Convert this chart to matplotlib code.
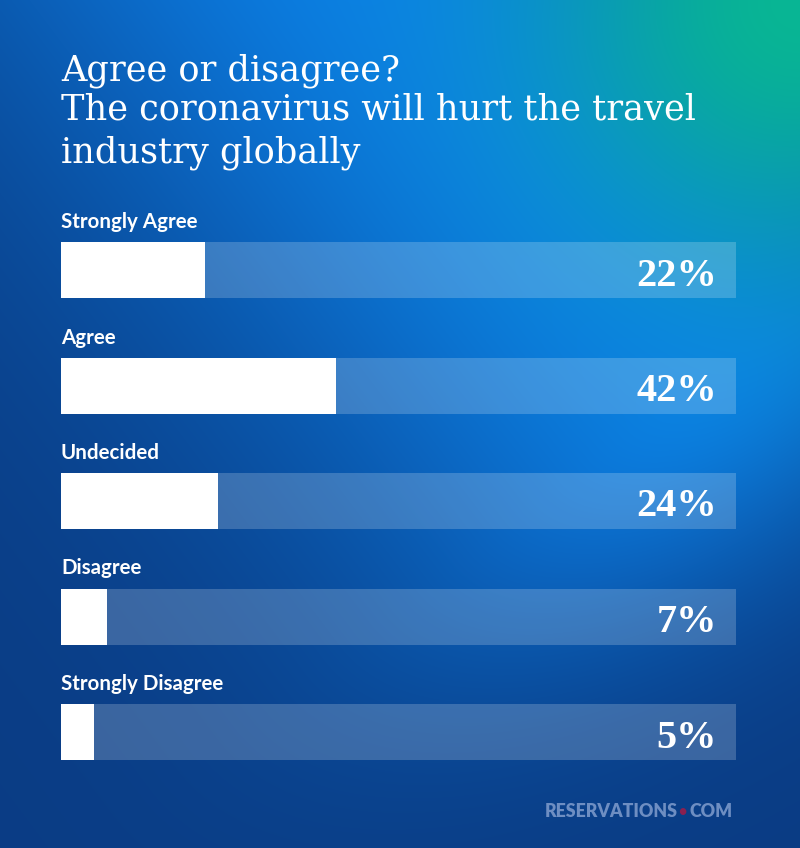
import matplotlib
matplotlib.use('Agg')
import matplotlib.pyplot as plt
import numpy as np

# 数据
categories = ['Strongly Agree', 'Agree', 'Undecided', 'Disagree', 'Strongly Disagree']
values = [22, 42, 24, 7, 5]
title_lines = ['Agree or disagree?',
               'The coronavirus will hurt the travel',
               'industry globally']

W, H = 800, 848
X_MAX = 103


def background():
    """蓝色渐变背景"""
    yy, xx = np.mgrid[0:H, 0:W].astype(float)
    navy = np.array([10, 60, 132]) / 255
    bright = np.array([12, 128, 232]) / 255
    teal = np.array([8, 182, 148]) / 255
    # 斜向亮带
    dx, dy = xx - 450, yy
    along = 0.6 * dx + 0.8 * dy
    perp = np.abs(-0.8 * dx + 0.6 * dy)
    w = np.exp(-(perp / 404) ** 2) * np.exp(-(np.clip(along - 450, 0, None) / 200) ** 2)
    # 右上角青绿
    dist = np.hypot(xx - W, yy)
    t = np.exp(-(dist / 260) ** 2)
    img = navy * (1 - w[..., None]) + bright * w[..., None]
    img = img * (1 - t[..., None]) + teal * t[..., None]
    return img


def px(x, y):
    """像素坐标 -> figure 坐标"""
    return x / W, 1 - y / H


def main():
    fig = plt.figure(figsize=(W / 100, H / 100), dpi=100)
    bg = fig.add_axes([0, 0, 1, 1])
    bg.imshow(background(), aspect='auto', extent=(0, W, H, 0))
    bg.axis('off')

    # 标题
    for line, base in zip(title_lines, [80, 120, 162]):
        fig.text(*px(61, base), line, color='white', fontsize=25.3,
                 family='DejaVu Serif', va='baseline', ha='left')

    # 条形图区域
    row = 115.5
    top, bottom = 242 - (row - 56) / 2, 760 + (row - 56) / 2
    ax = fig.add_axes([61 / W, 1 - bottom / H, 675 / W, (bottom - top) / H])
    ax.patch.set_alpha(0)
    h = 56 / row
    y = np.arange(len(categories))
    ax.barh(y, [X_MAX] * len(values), height=h, color='white', alpha=0.2, lw=0)
    ax.barh(y, values, height=h, color='white', lw=0)
    ax.set_xlim(0, X_MAX)
    ax.set_ylim(len(categories) - 0.5, -0.5)
    ax.axis('off')

    for i, (cat, v) in enumerate(zip(categories, values)):
        ax.text(0, i - h / 2 - 14 / row, cat, color='white', fontsize=14.8,
                family='Lato', fontweight='bold', va='baseline', ha='left')
        ax.annotate(f'{v}%', xy=(X_MAX, i), xytext=(-19, -15.5),
                    textcoords='offset pixels', color='white', fontsize=29,
                    family='Liberation Serif', fontweight='bold',
                    va='baseline', ha='right')

    # logo
    logo_c = '#6e8ec2'
    fig.text(*px(545, 817), 'RESERVATIONS', color=logo_c, fontsize=12.8,
             family='Lato', fontweight='heavy', va='baseline', ha='left')
    fig.text(*px(682, 817), '•', color='#8a2050', fontsize=12.5,
             family='Lato', va='baseline', ha='center')
    fig.text(*px(733, 817), 'COM', color=logo_c, fontsize=12.8,
             family='Lato', fontweight='heavy', va='baseline', ha='right')

    plt.savefig('out.png', dpi=100)


if __name__ == "__main__":
    main()
